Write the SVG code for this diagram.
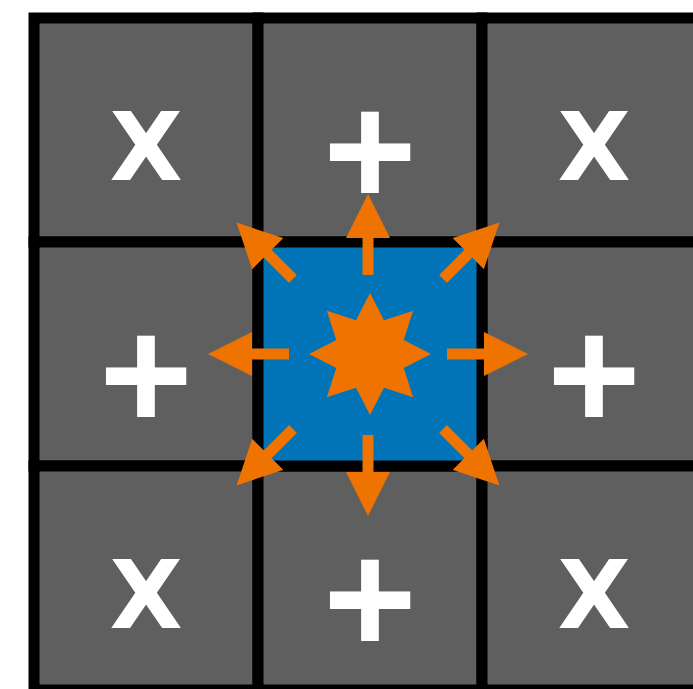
<svg xmlns="http://www.w3.org/2000/svg" width="693" height="689" viewBox="0 0 693 689">
<style>
.cell{fill:#5f5f5f;stroke:#000;stroke-width:11}
.center{fill:#0173b7;stroke:#000;stroke-width:11}
.lbl{font-weight:bold;fill:#fff;text-anchor:middle}
.x{font-family:"DejaVu Sans",sans-serif;font-size:95px}
.p{font-family:"Liberation Sans",Arial,sans-serif;font-size:160px}
.arr{stroke:#ef7300;stroke-width:11;fill:none;marker-end:url(#ah)}
</style>
<defs>
<marker id="ah" markerUnits="userSpaceOnUse" markerWidth="44" markerHeight="44" viewBox="0 0 44 44" refX="1" refY="22" orient="auto"><path d="M0,0 L44,22 L0,44 Z" fill="#ef7300"/></marker>
</defs>
<rect width="693" height="689" fill="#fff"/>
<g id="cell-tl"><rect class="cell" x="34" y="18" width="224" height="224"/><text class="lbl x" x="146" y="180">X</text></g>
<g id="cell-tm"><rect class="cell" x="258" y="18" width="224" height="224"/><text class="lbl p" x="370" y="206">+</text></g>
<g id="cell-tr"><rect class="cell" x="482" y="18" width="224" height="224"/><text class="lbl x" x="594" y="180">X</text></g>
<g id="cell-ml"><rect class="cell" x="34" y="242" width="224" height="224"/><text class="lbl p" x="146" y="430">+</text></g>
<g id="cell-mr"><rect class="cell" x="482" y="242" width="224" height="224"/><text class="lbl p" x="594" y="430">+</text></g>
<g id="cell-bl"><rect class="cell" x="34" y="466" width="224" height="224"/><text class="lbl x" x="146" y="628">X</text></g>
<g id="cell-bm"><rect class="cell" x="258" y="466" width="224" height="224"/><text class="lbl p" x="370" y="654">+</text></g>
<g id="cell-br"><rect class="cell" x="482" y="466" width="224" height="224"/><text class="lbl x" x="594" y="628">X</text></g>
<g id="cell-center"><rect class="center" x="258" y="242" width="224" height="224"/>
<path fill="#ef7300" d="M370,293 L383.97,320.28 L413.13,310.87 L403.72,340.03 L431,354 L403.72,367.97 L413.13,397.13 L383.97,387.72 L370,415 L356.03,387.72 L326.87,397.13 L336.28,367.97 L309,354 L336.28,340.03 L326.87,310.87 L356.03,320.28 Z"/></g>
<g id="connectors">
<line class="arr" x1="368" y1="275" x2="368" y2="237"/>
<line class="arr" x1="368" y1="435" x2="368" y2="473"/>
<line class="arr" x1="289" y1="354" x2="251" y2="354"/>
<line class="arr" x1="447" y1="354" x2="485" y2="354"/>
<line class="arr" x1="293" y1="279" x2="267" y2="253"/>
<line class="arr" x1="443" y1="279" x2="469" y2="253"/>
<line class="arr" x1="443" y1="429" x2="469" y2="455"/>
<line class="arr" x1="293" y1="429" x2="267" y2="455"/>
</g>
</svg>
